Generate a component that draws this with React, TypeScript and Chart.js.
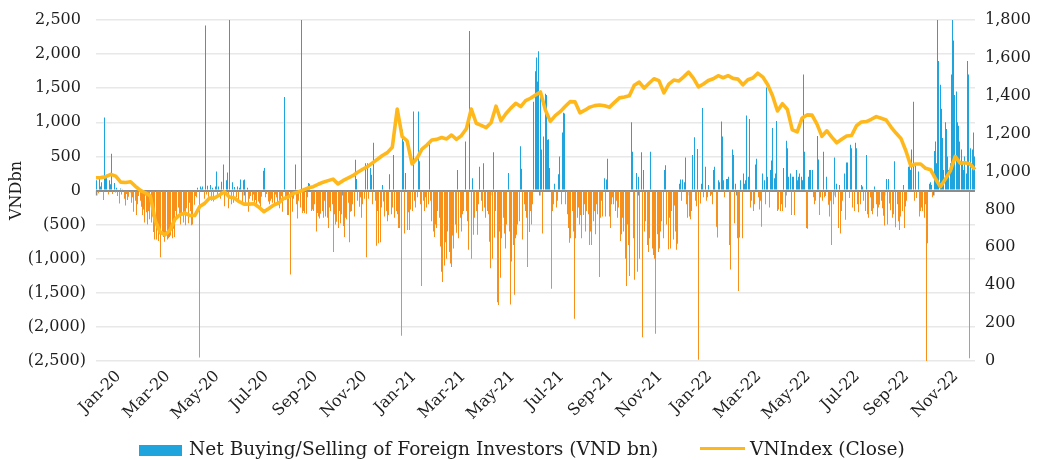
import { useEffect, useRef } from 'react';
import { Chart, registerables } from 'chart.js';

Chart.register(...registerables);

const MONTHS = [
  'Jan-20', 'Feb-20', 'Mar-20', 'Apr-20', 'May-20', 'Jun-20', 'Jul-20', 'Aug-20', 'Sep-20', 'Oct-20', 'Nov-20', 'Dec-20',
  'Jan-21', 'Feb-21', 'Mar-21', 'Apr-21', 'May-21', 'Jun-21', 'Jul-21', 'Aug-21', 'Sep-21', 'Oct-21', 'Nov-21', 'Dec-21',
  'Jan-22', 'Feb-22', 'Mar-22', 'Apr-22', 'May-22', 'Jun-22', 'Jul-22', 'Aug-22', 'Sep-22', 'Oct-22', 'Nov-22', 'Dec-22',
];

const TICK_LABELS = [
  'Jan-20', 'Mar-20', 'May-20', 'Jul-20', 'Sep-20', 'Nov-20',
  'Jan-21', 'Mar-21', 'May-21', 'Jul-21', 'Sep-21', 'Nov-21',
  'Jan-22', 'Mar-22', 'May-22', 'Jul-22', 'Sep-22', 'Nov-22',
];

// Net buying/selling of foreign investors (VND bn), trading days grouped by month
const netFlow2020 = [
  [150, -40, 180, 60, 120, -140, 1070, 200, 230, -60, 150, 90, 540, -50, 110, -30, 40, -80, -190, 30],
  [-60, 20, -120, -220, -50, -140, -90, -30, -180, -100, -310, -150, -360, -200, -80, -150, -240, -360, -280, -470],
  [-320, -500, -300, -420, -470, -380, -610, -720, -720, -550, -740, -640, -980, -600, -680, -750, -650, -720, -700, -680],
  [-660, -700, -560, -680, -300, -400, -250, -380, -500, -360, -470, -310, -510, -260, -480, -180, -300, -510, -500, -210],
  [-80, -100, 40, -2450, 60, 30, 60, -120, 2420, -60, 70, -90, 80, -150, 40, -160, 60, 280, -70, 60],
  [-120, 130, -60, 380, -230, 150, 265, -260, 2700, -200, 120, -180, 50, -100, 60, -160, 40, 160, -210, 150],
  [160, -210, 40, -310, -120, -80, -150, -60, -180, -140, -210, -160, -190, -260, -90, 290, 330, -100, -50, -160],
  [-200, -150, -120, -180, -200, -60, -100, -210, -260, -150, -80, -310, 1370, -140, -90, -360, -360, -1230, -100, -310],
  [-120, 380, -200, -410, -150, -250, 3000, -330, -300, -330, -340, -100, 110, 100, -300, -280, -300, -200, -600, -330],
  [-380, -410, -340, -300, -400, -150, -380, -400, -550, -250, -300, -200, -900, -350, -500, -460, -550, -300, -480, -350],
  [-520, -680, -400, -420, -180, -760, -310, -300, -200, -380, 450, 170, -150, -240, -100, -400, -200, -120, 400, -980],
  [400, -120, 330, 230, -200, 700, -150, -810, -300, -775, -760, -250, 80, -160, -380, -300, -450, -360, 240, -350],
];

const netFlow2021 = [
  [-250, 520, -400, -300, -350, -550, -550, -2130, 890, 720, -630, 255, -580, -320, -580, -280, -300, 1160, -150, -250],
  [-100, 1160, 430, -200, -1400, -150, -300, -100, -250, -200, 700, -150, -450, -600, -680, -500, -550, -300, -400, -820],
  [-1190, -1340, -1100, -760, -1000, -600, -900, -1070, -1120, -660, -850, -500, -620, 300, -700, -400, -600, -350, -300, 720],
  [-300, -450, -870, 2340, -1000, 180, -650, -400, -300, -650, -200, 350, -150, -300, 400, -250, -400, -300, -350, -750],
  [-1140, -1000, 560, -690, -300, -1640, -1680, -600, -1280, -700, -400, -630, -850, -500, 255, -600, -1670, -1040, -800, -1530],
  [-700, -650, -500, -450, 650, 320, -720, -200, -300, -400, -1120, -610, -300, -500, -200, 1300, 1750, 1950, 1600, 2040],
  [1400, 600, -630, 790, 1420, 1400, 745, 750, 330, -1440, -300, -200, 100, -250, -150, 240, 500, -200, 850, 1140],
  [1130, -200, -350, -550, -765, -700, -300, -600, -1880, -700, -400, -250, -500, -360, -700, -360, -200, -600, -300, -350],
  [-800, -600, -800, -450, -300, -640, -200, -350, -1270, -400, -150, -380, 180, -380, 160, 465, -380, -550, -200, -100],
  [-200, -300, -150, -400, -250, -740, -640, -400, -600, -1000, -1400, -500, -800, -1255, 1000, 570, -700, -1310, 255, -1190],
  [200, -1000, 560, -2150, 300, -600, -450, -800, -900, -700, 570, -850, -945, -1000, -2100, -640, -900, -850, -600, -450],
  [-700, 300, 370, -500, -860, -400, -850, -300, -720, -220, -600, -870, -780, 100, 160, -150, 160, 120, 485, -200],
];

const netFlow2022 = [
  [-400, -380, -420, -300, 520, 780, -150, -230, 610, -2480, -190, 100, 1210, -100, 350, -150, -100, 80, -80, -60],
  [-200, 300, 350, -530, -690, 150, 120, 1010, 790, 150, -100, 170, 170, 200, -800, -1160, 600, 520, -480, 100],
  [-700, -1475, -690, 150, -700, 250, 100, 150, 1100, 200, 1050, -250, -150, -300, -200, 380, 465, -100, -280, -150],
  [-530, 250, 150, -200, 1510, 200, -250, 300, 440, 915, 180, 250, 1020, -300, -280, -300, -200, -300, 330, -250],
  [730, 620, 200, 250, -360, 200, 200, -360, 300, 150, 200, 250, 200, 150, 1700, 570, -550, -560, 200, 300],
  [300, 300, -100, -200, -150, 800, 455, -360, -100, -150, 570, -100, -80, 200, -210, -380, -150, -800, -200, 485],
  [-100, 100, -550, 80, -630, -300, -150, 250, -430, 410, 410, -110, 670, 620, -250, -300, 700, 620, -200, -320],
  [-200, 80, 60, -150, -300, 520, -350, -400, -100, -300, -350, -260, 60, -200, -380, -250, -210, -150, -260, -370],
  [-515, 170, -500, 170, -190, -290, -400, -350, 430, -540, -200, -450, -580, -380, -300, 80, -550, -235, -150, 350],
  [400, 300, 600, 1300, -150, 380, -110, 280, -380, -300, -250, -300, -400, -200, -2700, -775, 100, 120, 80, -100],
  [580, 720, 400, 3000, 1900, 1550, 1200, 770, 300, 1000, 900, 500, 300, 400, 1700, 2800, 2200, 1400, 1450, 1000],
  [950, 720, 600, 400, 300, 500, 250, 1900, 1700, -2460, 620, 600, 850, 500],
];

// VNIndex close, sampled roughly every fourth trading day, grouped by month
const vnIndex2020 = [
  [967, 968, 973, 985, 976],
  [944, 942, 946, 922, 900],
  [888, 871, 740, 680, 666],
  [692, 748, 772, 780, 768],
  [768, 815, 832, 860, 860],
  [876, 893, 866, 860, 841],
  [828, 828, 830, 812, 788],
  [805, 823, 834, 858, 866],
  [886, 892, 903, 914, 920],
  [933, 944, 952, 960, 935],
  [952, 965, 978, 996, 1012],
  [1026, 1046, 1065, 1085, 1100],
];

const vnIndex2021 = [
  [1128, 1330, 1184, 1162, 1040],
  [1070, 1118, 1140, 1167, 1170],
  [1180, 1172, 1193, 1170, 1190],
  [1226, 1330, 1255, 1244, 1232],
  [1258, 1345, 1268, 1305, 1335],
  [1360, 1343, 1374, 1387, 1404],
  [1420, 1325, 1265, 1295, 1316],
  [1343, 1369, 1368, 1310, 1324],
  [1340, 1348, 1351, 1347, 1340],
  [1365, 1389, 1394, 1400, 1456],
  [1472, 1440, 1466, 1490, 1480],
  [1415, 1462, 1483, 1478, 1500],
];

const vnIndex2022 = [
  [1525, 1492, 1447, 1462, 1481],
  [1490, 1506, 1495, 1506, 1492],
  [1488, 1458, 1485, 1494, 1519],
  [1500, 1460, 1400, 1320, 1358],
  [1328, 1220, 1210, 1283, 1299],
  [1298, 1250, 1186, 1215, 1182],
  [1152, 1170, 1188, 1190, 1242],
  [1262, 1264, 1276, 1290, 1281],
  [1272, 1235, 1203, 1175, 1110],
  [1030, 1040, 1040, 1017, 1010],
  [962, 920, 960, 1004, 1080],
  [1044, 1047, 1040, 1010],
];

const BLUE = '#1fa4de';
const ORANGE = '#f7901b';
const YELLOW = '#ffb81c';
const TEXT = '#1e1e1e';
const FONT = "'DejaVu Serif', serif";

function flatten(groups: number[][]) {
  const labels: string[] = [];
  const values: number[] = [];
  groups.forEach((vals, m) => vals.forEach((v) => { labels.push(MONTHS[m]); values.push(v); }));
  return { labels, values };
}

const bars = flatten([...netFlow2020, ...netFlow2021, ...netFlow2022]);
const line = flatten([...vnIndex2020, ...vnIndex2021, ...vnIndex2022]);

// snaps each thin bar to a whole device pixel so it renders crisp
const crispBars = {
  id: 'crispBars',
  beforeDatasetsDraw(chart: any) {
    chart.data.datasets.forEach((ds: any, di: number) => {
      if (ds.type !== 'bar') return;
      const meta = chart.getDatasetMeta(di);
      meta.data.forEach((el: any) => {
        el.x = Math.floor(el.x) + 0.5;
        el.width = 1;
      });
    });
  },
};

const zeroTicks = {
  id: 'zeroTicks',
  beforeDatasetsDraw(chart: any) {
    const { ctx } = chart;
    const xs = chart.scales.x;
    const y0 = chart.scales.y.getPixelForValue(0);
    ctx.save();
    ctx.strokeStyle = '#8c8c8c';
    ctx.lineWidth = 1.5;
    xs.ticks.forEach((_t: any, i: number) => {
      const px = xs.getPixelForTick(i);
      ctx.beginPath();
      ctx.moveTo(px, y0);
      ctx.lineTo(px, y0 + 5);
      ctx.stroke();
    });
    ctx.restore();
  },
};

export default function App() {
  const ref = useRef<HTMLCanvasElement | null>(null);

  useEffect(() => {
    if (!ref.current) return;
    const chart = new Chart(ref.current, {
      type: 'bar',
      data: {
        labels: bars.labels,
        datasets: [
          {
            type: 'line',
            label: 'VNIndex (Close)',
            data: line.values,
            xAxisID: 'x2',
            yAxisID: 'y1',
            borderColor: YELLOW,
            backgroundColor: YELLOW,
            borderWidth: 3.6,
            borderJoinStyle: 'round',
            pointRadius: 0,
            tension: 0,
            order: 0,
          } as any,
          {
            type: 'bar',
            label: 'Net Buying/Selling of Foreign Investors (VND bn)',
            data: bars.values,
            xAxisID: 'x',
            yAxisID: 'y',
            backgroundColor: bars.values.map((v) => (v >= 0 ? BLUE : ORANGE)),
            borderWidth: 0,
            barPercentage: 0.9,
            categoryPercentage: 1,
            order: 1,
          },
        ],
      },
      options: {
        responsive: false,
        animation: false,
        devicePixelRatio: 1,
        layout: { padding: { top: 20, left: 0, right: 0, bottom: 0 } },
        plugins: { legend: { display: false }, tooltip: { enabled: false } },
        scales: {
          x: {
            type: 'category',
            offset: true,
            grid: { display: false, drawTicks: false },
            border: { display: false },
            afterBuildTicks: (scale: any) => {
              scale.ticks = scale.ticks.filter((t: any) => {
                const lab = bars.labels[t.value];
                const first = t.value === 0 || bars.labels[t.value - 1] !== lab;
                return first && TICK_LABELS.includes(lab);
              });
            },
            afterFit: (scale: any) => { scale.height = 99; },
            ticks: {
              autoSkip: false,
              minRotation: 45,
              maxRotation: 45,
              labelOffset: 22,
              padding: 6,
              color: TEXT,
              font: { family: FONT, size: 16 },
            },
          },
          x2: {
            type: 'category',
            labels: line.labels,
            display: false,
            offset: false,
          },
          y: {
            position: 'left',
            min: -2500,
            max: 2500,
            afterFit: (scale: any) => { scale.width = 96; },
            border: { display: false },
            grid: {
              drawTicks: false,
              color: (ctx: any) => (ctx.tick && ctx.tick.value === 0 ? '#8c8c8c' : '#e8e8e8'),
              lineWidth: (ctx: any) => (ctx.tick && ctx.tick.value === 0 ? 2 : 1.5),
            },
            title: {
              display: true,
              text: 'VNDbn',
              color: TEXT,
              font: { family: FONT, size: 16 },
              padding: { top: 7, bottom: 0 },
            },
            ticks: {
              stepSize: 500,
              padding: 10,
              color: TEXT,
              font: { family: FONT, size: 16 },
              callback: (v: any) => {
                const n = Number(v);
                const s = Math.abs(n).toLocaleString('en-US');
                return n < 0 ? `(${s})` : `${s} `;
              },
            },
          },
          y1: {
            position: 'right',
            min: 0,
            max: 1800,
            afterFit: (scale: any) => { scale.width = 63; },
            border: { display: false },
            grid: { display: false, drawTicks: false },
            ticks: {
              stepSize: 200,
              padding: 10,
              color: TEXT,
              font: { family: FONT, size: 16 },
              callback: (v: any) => Number(v).toLocaleString('en-US'),
            },
          },
        },
      },
      plugins: [crispBars, zeroTicks],
    });
    return () => chart.destroy();
  }, []);

  const textStyle: any = {
    position: 'absolute',
    top: 439,
    fontFamily: FONT,
    fontSize: 18.6,
    lineHeight: '19px',
    color: TEXT,
    whiteSpace: 'nowrap',
  };

  return (
    <div style={{ position: 'fixed', left: 0, top: 0, width: 1038, height: 460, background: '#fff', overflow: 'hidden' }}>
      <canvas ref={ref} width={1038} height={460} style={{ display: 'block', width: 1038, height: 460 }} />
      <div style={{ position: 'absolute', left: 139, top: 445, width: 43, height: 11, background: BLUE }} />
      <span style={{ ...textStyle, left: 189 }}>Net Buying/Selling of Foreign Investors (VND bn)</span>
      <div style={{ position: 'absolute', left: 700, top: 447, width: 45, height: 3, background: YELLOW }} />
      <span style={{ ...textStyle, left: 750 }}>VNIndex (Close)</span>
    </div>
  );
}
